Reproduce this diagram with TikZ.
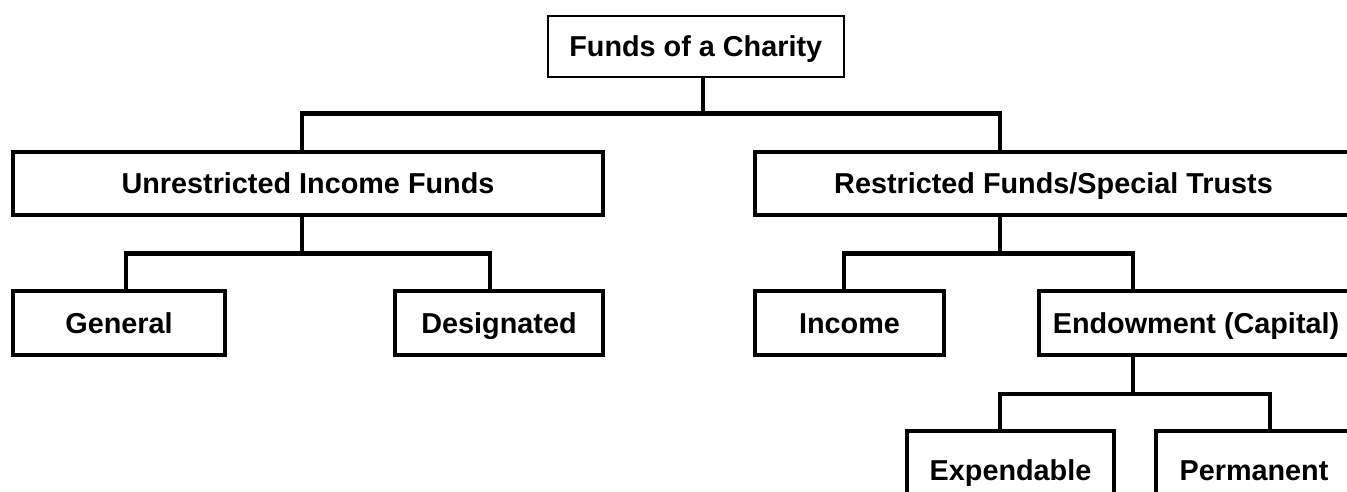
\documentclass[tikz,border=0pt]{standalone}
\usepackage{fontspec}
\setmainfont{Liberation Sans}
\begin{document}
\begin{tikzpicture}[x=1pt,y=-1pt,
  box/.style={draw=black, line width=4.5pt, fill=white, inner sep=0pt, outer sep=0pt,
    text height=20.5pt, text depth=0pt, minimum height=64pt,
    font=\fontsize{28.8}{32}\selectfont\bfseries},
  topbox/.style={box, line width=2pt},
  conn/.style={draw=black, line width=4.5pt, line join=miter}]
\useasboundingbox (0,0) rectangle (1347,491);
\clip (0,0) rectangle (1347,491);
\fill[white] (0,0) rectangle (1347,491);

% nodes
\node[topbox, minimum width=295.5pt, minimum height=61.5pt] (top) at (695.75,46.25) {Funds of a Charity};
\node[box, minimum width=590pt, minimum height=63pt] (unr) at (308,183.5) {Unrestricted Income Funds};
\node[box, minimum width=597pt, minimum height=63pt] (res) at (1053.5,183.5) {Restricted Funds/Special Trusts};
\node[box, minimum width=212pt] (gen) at (119,323) {General};
\node[box, minimum width=208pt] (des) at (499,323) {Designated};
\node[box, minimum width=189pt] (inc) at (849.5,323) {Income};
\node[box, minimum width=314pt] (endw) at (1196,323) {Endowment (Capital)};
\node[box, minimum width=207pt, minimum height=78pt] (exp) at (1010.5,470) {Expendable};
\node[box, minimum width=196pt, minimum height=78pt] (perm) at (1254,470) {Permanent};

% junction coordinates
\coordinate (j0) at (703,113.5);
\coordinate (j0l) at (302,113.5);
\coordinate (j0r) at (1000,113.5);
\coordinate (j1) at (302,253.5);
\coordinate (j1l) at (126,253.5);
\coordinate (j1r) at (490,253.5);
\coordinate (j2) at (1000,253.5);
\coordinate (j2l) at (844,253.5);
\coordinate (j2r) at (1133,253.5);
\coordinate (j3) at (1133,394);
\coordinate (j3l) at (1000,394);
\coordinate (j3r) at (1270,394);

% connectors
\draw[conn] (top.south -| j0) -- (j0);
\draw[conn] (unr.north -| j0l) -- (j0l) -- (j0r) -- (res.north -| j0r);

\draw[conn] (unr.south -| j1) -- (j1);
\draw[conn] (gen.north -| j1l) -- (j1l) -- (j1r) -- (des.north -| j1r);

\draw[conn] (res.south -| j2) -- (j2);
\draw[conn] (inc.north -| j2l) -- (j2l) -- (j2r) -- (endw.north -| j2r);

\draw[conn] (endw.south -| j3) -- (j3);
\draw[conn] (exp.north -| j3l) -- (j3l) -- (j3r) -- (perm.north -| j3r);
\end{tikzpicture}
\end{document}
